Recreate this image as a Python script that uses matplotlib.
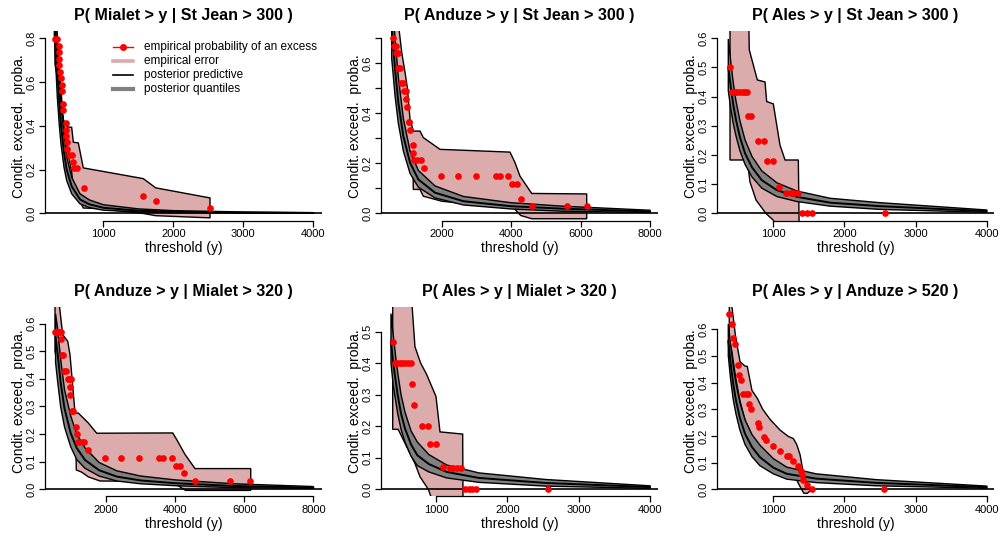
import numpy as np
import matplotlib.pyplot as plt

plt.rcParams['font.family'] = ['Liberation Sans', 'DejaVu Sans']

titles = ["P( Mialet > y | St Jean > 300 )", "P( Anduze > y | St Jean > 300 )",
          "P( Ales > y | St Jean > 300 )", "P( Anduze > y | Mialet > 320 )",
          "P( Ales > y | Mialet > 320 )", "P( Ales > y | Anduze > 520 )"]

# ---- panel 1 : Mialet | St Jean
p1_pt_x = [310, 343, 362, 362, 372, 372, 381, 395, 405, 414, 429, 429, 467, 467, 472, 476, 486,
           510, 548, 562, 581, 619, 724, 1571, 1748, 2524]
p1_pt_y = [0.794, 0.794, 0.765, 0.735, 0.706, 0.676, 0.647, 0.618, 0.588, 0.559, 0.500, 0.471,
           0.412, 0.382, 0.353, 0.324, 0.294, 0.265, 0.265, 0.235, 0.206, 0.206, 0.118, 0.082,
           0.055, 0.027]
p1_cx = [300, 320, 343, 372, 396, 439, 477, 548, 667, 800, 1000, 1500, 2000, 3000, 4000]
p1_mid = [1.0, 0.83, 0.656, 0.504, 0.40, 0.276, 0.20, 0.124, 0.064, 0.042, 0.026, 0.013, 0.008, 0.004, 0.002]
p1_hi = [1.2, 1.0, 0.80, 0.62, 0.50, 0.35, 0.26, 0.165, 0.09, 0.062, 0.04, 0.021, 0.013, 0.007, 0.004]
p1_lo = [0.82, 0.68, 0.53, 0.40, 0.315, 0.21, 0.15, 0.09, 0.044, 0.027, 0.015, 0.007, 0.004, 0.002, 0.001]
p1_eu_x = [310, 333, 372, 429, 491, 548, 572, 643, 714, 1571, 1748, 2524]
p1_eu_y = [0.95, 0.83, 0.656, 0.428, 0.395, 0.393, 0.325, 0.322, 0.208, 0.159, 0.117, 0.071]
p1_el_x = [310, 343, 372, 414, 467, 510, 548, 572, 714, 953, 1571, 1748, 2524]
p1_el_y = [0.68, 0.62, 0.55, 0.45, 0.33, 0.25, 0.19, 0.117, 0.025, 0.022, 0.0, -0.01, -0.02]

# ---- panel 2 : Anduze | St Jean
p2_pt_x = [608, 628, 677, 685, 752, 752, 800, 820, 878, 916, 973, 973, 993, 1050, 1070, 1089,
           1166, 1184, 1213, 1299, 1396, 1501, 1981, 2462, 2989, 3557, 3681, 3920, 4035, 4162,
           4277, 4594, 5602, 6178]
p2_pt_y = [0.699, 0.669, 0.669, 0.639, 0.639, 0.579, 0.579, 0.519, 0.519, 0.487, 0.487, 0.456,
           0.425, 0.365, 0.365, 0.333, 0.273, 0.243, 0.212, 0.212, 0.212, 0.181, 0.149, 0.149,
           0.149, 0.149, 0.149, 0.149, 0.116, 0.116, 0.059, 0.029, 0.029, 0.029]
p2_cx = [560, 600, 657, 752, 896, 1089, 1328, 1809, 2625, 4000, 5504, 8000]
p2_mid = [0.76, 0.68, 0.576, 0.443, 0.309, 0.203, 0.136, 0.083, 0.049, 0.029, 0.019, 0.008]
p2_hi = [0.9, 0.82, 0.70, 0.545, 0.38, 0.25, 0.172, 0.11, 0.068, 0.043, 0.029, 0.013]
p2_lo = [0.62, 0.56, 0.47, 0.36, 0.25, 0.16, 0.105, 0.062, 0.034, 0.018, 0.009, 0.004]
p2_eu_x = [600, 752, 781, 850, 945, 1011, 1089, 1184, 1376, 1472, 1953, 3969, 4113, 4257, 4594, 6178]
p2_eu_y = [0.95, 0.8, 0.725, 0.643, 0.563, 0.503, 0.376, 0.329, 0.329, 0.303, 0.256, 0.245,
           0.203, 0.149, 0.08, 0.078]
p2_el_x = [600, 752, 900, 1000, 1100, 1170, 1184, 1376, 1472, 2002, 2500, 3000, 3600, 4035,
           4162, 4277, 4594, 6178]
p2_el_y = [0.6, 0.46, 0.34, 0.27, 0.22, 0.203, 0.096, 0.096, 0.069, 0.049, 0.042, 0.038, 0.034,
           0.03, 0.009, -0.008, -0.021, -0.021]

# ---- panel 3 : Ales | St Jean
p3_pt_x = [391, 415, 461, 494, 532, 570, 602, 634, 649, 682, 789, 873, 907, 992, 1085, 1179,
           1245, 1291, 1343, 1399, 1470, 1540, 2571]
p3_pt_y = [0.5, 0.417, 0.417, 0.417, 0.417, 0.417, 0.417, 0.417, 0.335, 0.335, 0.249, 0.249,
           0.18, 0.18, 0.089, 0.071, 0.071, 0.071, 0.071, 0.0, 0.0, 0.0, 0.0]
p3_cx = [367, 401, 435, 475, 530, 602, 700, 837, 1050, 1329, 1800, 2500, 4000]
p3_mid = [0.50, 0.434, 0.375, 0.32, 0.262, 0.206, 0.158, 0.114, 0.08, 0.057, 0.037, 0.025, 0.008]
p3_hi = [0.597, 0.52, 0.45, 0.385, 0.318, 0.252, 0.195, 0.146, 0.105, 0.077, 0.052, 0.037, 0.012]
p3_lo = [0.42, 0.36, 0.31, 0.265, 0.215, 0.168, 0.125, 0.087, 0.058, 0.041, 0.025, 0.014, 0.004]
p3_eu_x = [391, 649, 662, 775, 883, 907, 1000, 1094, 1165, 1352, 1366]
p3_eu_y = [0.8, 0.75, 0.56, 0.457, 0.45, 0.383, 0.375, 0.234, 0.183, 0.183, -0.1]
p3_el_x = [391, 634, 672, 757, 897, 1000, 1094, 1366]
p3_el_y = [0.183, 0.183, 0.108, 0.046, 0.0, -0.023, -0.06, -0.1]

# ---- panel 4 : Anduze | Mialet
p4_pt_x = [524, 590, 648, 698, 698, 736, 764, 784, 834, 891, 938, 978, 958, 958, 1007, 1054,
           1132, 1152, 1181, 1297, 1363, 1470, 1971, 2434, 2964, 3543, 3659, 3901, 4017, 4142,
           4258, 4576, 5589, 6168]
p4_pt_y = [0.571, 0.571, 0.571, 0.571, 0.544, 0.486, 0.486, 0.429, 0.429, 0.399, 0.399, 0.399,
           0.370, 0.342, 0.285, 0.285, 0.227, 0.2, 0.171, 0.171, 0.171, 0.143, 0.114, 0.114,
           0.114, 0.114, 0.114, 0.114, 0.086, 0.086, 0.059, 0.029, 0.029, 0.029]
p4_cx = [540, 600, 688, 800, 978, 1150, 1392, 1800, 2310, 3000, 4000, 5685, 8000]
p4_mid = [0.55, 0.49, 0.385, 0.292, 0.203, 0.15, 0.106, 0.069, 0.046, 0.032, 0.022, 0.012, 0.006]
p4_hi = [0.635, 0.58, 0.47, 0.36, 0.266, 0.2, 0.15, 0.097, 0.067, 0.048, 0.034, 0.02, 0.01]
p4_lo = [0.46, 0.39, 0.298, 0.225, 0.154, 0.108, 0.076, 0.048, 0.030, 0.02, 0.013, 0.006, 0.003]
p4_eu_x = [524, 620, 746, 891, 958, 1054, 1103, 1199, 1488, 1731, 3930, 4046, 4287, 4576, 6188]
p4_eu_y = [0.9, 0.7, 0.56, 0.536, 0.487, 0.348, 0.276, 0.276, 0.24, 0.203, 0.204, 0.18, 0.126,
           0.075, 0.075]
p4_el_x = [524, 700, 850, 958, 1054, 1132, 1140, 1297, 1488, 1826, 3900, 4150, 4300, 6188]
p4_el_y = [0.5, 0.38, 0.3, 0.23, 0.16, 0.125, 0.07, 0.062, 0.045, 0.03, 0.028, 0.008, -0.004, -0.004]

# ---- panel 5 : Ales | Mialet
p5_pt_x = [393, 425, 457, 495, 527, 565, 603, 645, 668, 696, 799, 883, 916, 1000, 1093, 1196,
           1242, 1298, 1350, 1406, 1462, 1500, 1556, 2565]
p5_pt_y = [0.467, 0.4, 0.4, 0.4, 0.4, 0.4, 0.4, 0.4, 0.333, 0.266, 0.2, 0.2, 0.142, 0.142, 0.072,
           0.067, 0.067, 0.067, 0.067, 0.0, 0.0, 0.0, 0.0, 0.0]
p5_cx = [369, 400, 435, 463, 510, 565, 650, 738, 900, 1150, 1600, 2540, 4000]
p5_mid = [0.47, 0.40, 0.343, 0.299, 0.24, 0.193, 0.142, 0.108, 0.08, 0.055, 0.036, 0.02, 0.007]
p5_hi = [0.557, 0.49, 0.42, 0.37, 0.30, 0.245, 0.185, 0.15, 0.11, 0.077, 0.052, 0.031, 0.011]
p5_lo = [0.40, 0.33, 0.28, 0.24, 0.19, 0.15, 0.105, 0.075, 0.055, 0.036, 0.022, 0.01, 0.003]
p5_eu_x = [393, 659, 705, 785, 869, 1000, 1056, 1374, 1380]
p5_eu_y = [0.8, 0.6, 0.452, 0.40, 0.364, 0.294, 0.182, 0.175, -0.1]
p5_el_x = [393, 470, 600, 705, 775, 892, 940, 1200, 1380]
p5_el_y = [0.19, 0.19, 0.13, 0.082, 0.04, 0.0, -0.03, -0.08, -0.1]

# ---- panel 6 : Ales | Anduze
p6_pt_x = [381, 415, 437, 461, 499, 522, 546, 578, 616, 648, 658, 682, 789, 795, 869, 897, 992,
           1094, 1188, 1225, 1282, 1343, 1385, 1399, 1422, 1478, 1540, 2561]
p6_pt_y = [0.656, 0.619, 0.565, 0.546, 0.465, 0.43, 0.411, 0.356, 0.356, 0.356, 0.321, 0.302,
           0.249, 0.232, 0.195, 0.183, 0.162, 0.143, 0.123, 0.123, 0.105, 0.086, 0.070, 0.055,
           0.036, 0.016, 0.0, 0.0]
p6_cx = [367, 400, 437, 475, 530, 602, 700, 813, 1000, 1188, 1600, 2454, 4000]
p6_mid = [0.555, 0.47, 0.393, 0.333, 0.268, 0.208, 0.158, 0.12, 0.081, 0.058, 0.040, 0.024, 0.008]
p6_hi = [0.619, 0.54, 0.46, 0.396, 0.325, 0.26, 0.205, 0.165, 0.115, 0.083, 0.058, 0.036, 0.012]
p6_lo = [0.50, 0.41, 0.335, 0.282, 0.222, 0.168, 0.122, 0.088, 0.058, 0.038, 0.025, 0.013, 0.004]
p6_eu_x = [381, 415, 470, 532, 600, 634, 700, 775, 850, 954, 1094, 1211, 1282, 1329, 1376, 1422,
           1470, 1500, 1540]
p6_eu_y = [0.78, 0.69, 0.57, 0.478, 0.462, 0.46, 0.37, 0.341, 0.30, 0.262, 0.222, 0.198, 0.19,
           0.168, 0.13, 0.06, 0.025, 0.005, 0.0]
p6_el_x = [381, 415, 470, 532, 602, 700, 800, 900, 1000, 1100, 1200, 1300, 1376, 1430, 1480, 1540]
p6_el_y = [0.56, 0.52, 0.42, 0.33, 0.26, 0.2, 0.16, 0.125, 0.1, 0.08, 0.065, 0.05, 0.01, -0.015,
           -0.015, 0.0]

# axis settings per panel
x_lims = [(167, 4124), (253, 8232), (208, 4104), (234, 8251), (229, 4112), (208, 4104)]
x_ticks = [[1000, 2000, 3000, 4000], [2000, 4000, 6000, 8000], [1000, 2000, 3000, 4000],
           [2000, 4000, 6000, 8000], [1000, 2000, 3000, 4000], [1000, 2000, 3000, 4000]]
y_tops = [0.8, 0.70, 0.60, 0.635, 0.556, 0.657]
y_ticks = [[0, 0.2, 0.4, 0.6, 0.8], list(np.arange(0, 0.71, 0.1)), list(np.arange(0, 0.61, 0.1)),
           list(np.arange(0, 0.61, 0.1)), list(np.arange(0, 0.51, 0.1)), list(np.arange(0, 0.61, 0.1))]
y_label_every = [1, 2, 1, 1, 1, 1]

panels = []
for i in range(1, 7):
    g = globals()
    panels.append({k: g[f"p{i}_{k}"] for k in
                   ["pt_x", "pt_y", "cx", "mid", "hi", "lo", "eu_x", "eu_y", "el_x", "el_y"]})

PINK = '#DCACAC'
GREY = '#808080'

fig = plt.figure(figsize=(10.03, 5.36), dpi=100)
lefts = [45, 381, 717]
bottoms = [220.5, 496.3]
W, H = 277, 189.4

for n, d in enumerate(panels):
    row, col = divmod(n, 3)
    ax = fig.add_axes([lefts[col] / 1003, (536 - bottoms[row]) / 536, W / 1003, H / 536])

    # empirical error polygon
    ax.fill(np.r_[d["eu_x"], d["el_x"][::-1]], np.r_[d["eu_y"], d["el_y"][::-1]],
            facecolor=PINK, edgecolor='black', lw=1.0, zorder=1)
    # posterior quantile band + predictive
    ax.fill(np.r_[d["cx"], d["cx"][::-1]], np.r_[d["hi"], d["lo"][::-1]],
            facecolor=GREY, edgecolor='black', lw=1.0, zorder=2)
    ax.plot(d["cx"], d["mid"], color='black', lw=1.4, zorder=3)
    ax.axhline(0, color='black', lw=1.2, zorder=3)
    ax.plot(d["pt_x"], d["pt_y"], 'o', color='red', ms=3.8, mec='red', zorder=4)

    t = y_tops[n]
    ax.set_xlim(*x_lims[n])
    ax.set_ylim(-0.04 * t, 1.04 * t)

    for s in ['top', 'right']:
        ax.spines[s].set_visible(False)
    ax.spines['left'].set_bounds(0, y_ticks[n][-1])
    ax.spines['bottom'].set_bounds(x_ticks[n][0], x_ticks[n][-1])
    for s in ['left', 'bottom']:
        ax.spines[s].set_linewidth(0.9)

    ax.set_xticks(x_ticks[n])
    ax.set_xticklabels([str(v) for v in x_ticks[n]])
    ax.set_yticks(y_ticks[n])
    ax.set_yticklabels([f"{v:.1f}" if k % y_label_every[n] == 0 else ""
                        for k, v in enumerate(y_ticks[n])])
    ax.tick_params(axis='both', direction='out', length=4.5, width=0.9, labelsize=8, pad=1.5)
    ax.tick_params(axis='y', labelrotation=90)
    for lab in ax.get_yticklabels():
        lab.set_va('center')

    ax.set_title(titles[n], fontsize=11.5, fontweight='bold', pad=8)
    ax.set_xlabel("threshold (y)", fontsize=10)
    ax.set_ylabel("Condit. exceed.  proba.", fontsize=10)
    ax.xaxis.set_label_coords(0.5, -0.108)
    ax.yaxis.set_label_coords(-0.068, 0.5)

    if n == 0:
        rows_y = [0.9186, 0.8430, 0.7690, 0.6934]
        labels = ["empirical probability of an excess", "empirical error",
                  "posterior predictive", "posterior quantiles"]
        styles = [dict(color='red', lw=1.0), dict(color=PINK, lw=2.6),
                  dict(color='black', lw=1.2), dict(color=GREY, lw=3.0)]
        for yy, lab, st in zip(rows_y, labels, styles):
            ax.plot([0.2455, 0.3177], [yy, yy], transform=ax.transAxes, clip_on=False, **st)
            ax.text(0.357, yy, lab, transform=ax.transAxes, va='center', ha='left', fontsize=8.5)
        ax.plot([0.2816], [rows_y[0]], 'o', color='red', ms=4, transform=ax.transAxes)

fig.savefig("out.png", dpi=100)
